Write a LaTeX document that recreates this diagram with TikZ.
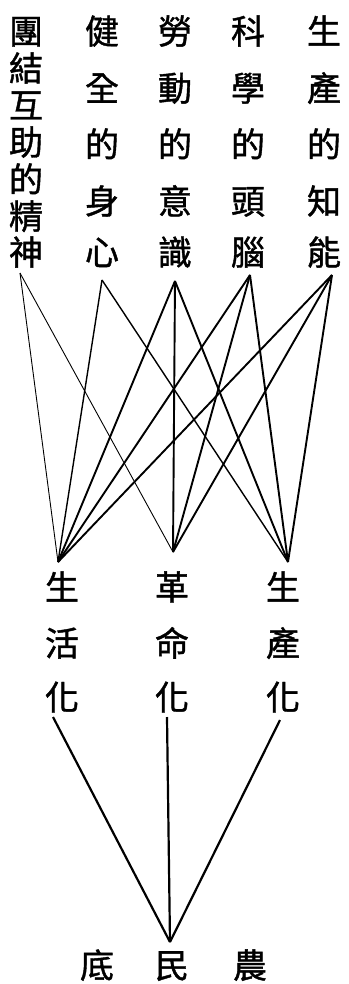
\documentclass[tikz,border=0pt]{standalone}
\usepackage{fontspec}
\newfontfamily\cjk[FakeBold=1.2]{Noto Sans CJK TC}
\begin{document}
\begin{tikzpicture}[x=1pt,y=-1pt,
  ch/.style={font=\cjk\fontsize{34}{34}\selectfont, inner sep=0pt, text height=30pt, text depth=4pt},
  thin line/.style={line width=0.9pt},
  mid line/.style={line width=1.4pt},
  ln/.style={line width=1.9pt},
  base line/.style={line width=2.2pt}]
\useasboundingbox (0,0) rectangle (348,984);
% top column 1 (pitch 37)
\node[ch] (a1) at (26,31) {團};
\node[ch] (a2) at (26,68) {結};
\node[ch] (a3) at (26,105) {互};
\node[ch] (a4) at (26,142) {助};
\node[ch] (a5) at (26,179) {的};
\node[ch] (a6) at (26,216) {精};
\node[ch] (a7) at (26,252) {神};
% column 2
\node[ch] (b1) at (102,31) {健};
\node[ch] (b2) at (102,88) {全};
\node[ch] (b3) at (102,144) {的};
\node[ch] (b4) at (102,201) {身};
\node[ch] (b5) at (102,252) {心};
% column 3
\node[ch] (c1) at (175,31) {勞};
\node[ch] (c2) at (175,88) {動};
\node[ch] (c3) at (175,144) {的};
\node[ch] (c4) at (175,201) {意};
\node[ch] (c5) at (175,252) {識};
% column 4
\node[ch] (d1) at (248,31) {科};
\node[ch] (d2) at (248,88) {學};
\node[ch] (d3) at (248,144) {的};
\node[ch] (d4) at (248,201) {頭};
\node[ch] (d5) at (248,252) {腦};
% column 5
\node[ch] (e1) at (324,31) {生};
\node[ch] (e2) at (324,88) {產};
\node[ch] (e3) at (324,144) {的};
\node[ch] (e4) at (324,201) {知};
\node[ch] (e5) at (324,252) {能};
% middle labels
\node[ch] (f1) at (62,587) {生};
\node[ch] (f2) at (62,643) {活};
\node[ch] (f3) at (62,697) {化};
\node[ch] (g1) at (172,587) {革};
\node[ch] (g2) at (172,643) {命};
\node[ch] (g3) at (172,697) {化};
\node[ch] (h1) at (283,587) {生};
\node[ch] (h2) at (283,643) {產};
\node[ch] (h3) at (283,697) {化};
% bottom
\node[ch] (k1) at (97,965) {底};
\node[ch] (k2) at (172,965) {民};
\node[ch] (k3) at (250,965) {農};
% apex points
\coordinate (ta) at (20,273);
\coordinate (tb) at (102,280);
\coordinate (tc) at (175,281);
\coordinate (td) at (250,275);
\coordinate (te) at (332,275);
\coordinate (mf) at (58,562);
\coordinate (mg) at (173,552);
\coordinate (mh) at (288,562);
\coordinate (uf) at (53,717);
\coordinate (ug) at (167,717);
\coordinate (uh) at (280,720);
\coordinate (bk) at (170,942);
% connectors top -> middle
\draw[thin line] (ta) -- (mf);
\draw[thin line] (ta) -- (mg);
\draw[mid line] (tb) -- (mf);
\draw[mid line] (tb) -- (mh);
\draw[ln] (tc) -- (mf);
\draw[ln] (tc) -- (mg);
\draw[ln] (tc) -- (mh);
\draw[ln] (td) -- (mf);
\draw[ln] (td) -- (mg);
\draw[ln] (td) -- (mh);
\draw[ln] (te) -- (mf);
\draw[ln] (te) -- (mg);
\draw[ln] (te) -- (mh);
% middle -> bottom
\draw[base line] (uf) -- (bk);
\draw[base line] (ug) -- (bk);
\draw[base line] (uh) -- (bk);
\end{tikzpicture}
\end{document}
